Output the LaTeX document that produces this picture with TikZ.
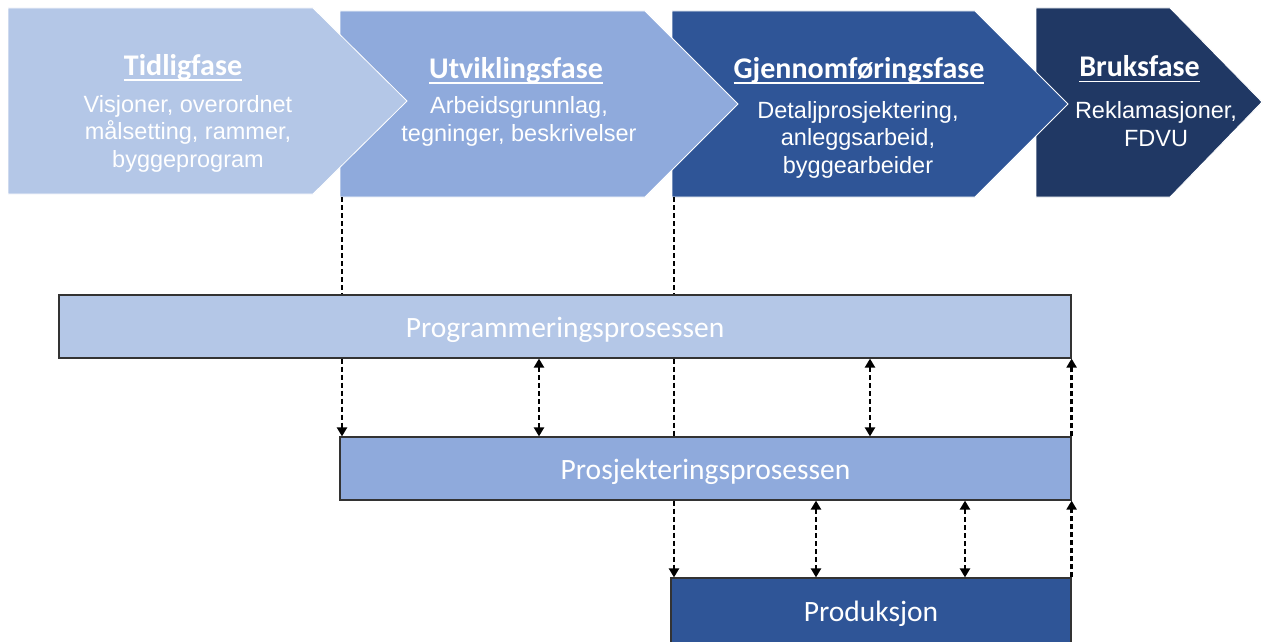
\documentclass[tikz,border=0pt]{standalone}
\usepackage{fontspec}
\setmainfont{Liberation Sans}
\newfontfamily\calib{Carlito}
\usetikzlibrary{arrows.meta}
\definecolor{cA}{HTML}{B4C7E7}
\definecolor{cB}{HTML}{8FAADC}
\definecolor{cC}{HTML}{2F5597}
\definecolor{cD}{HTML}{203864}
\newcommand\myul[1]{\setbox0\hbox{#1}\rlap{\rule[-5.5pt]{\wd0}{1.8pt}}\box0}
\tikzset{Tri/.tip={Triangle[length=9pt,width=10pt]}}
\begin{document}
\begin{tikzpicture}[x=1pt,y=-1pt,
 chev/.style={draw=white, line width=0.8pt},
 ttl/.style={text=white, font=\calib\fontsize{30}{35}\selectfont\bfseries, anchor=base, inner sep=0pt},
 dsc/.style={text=white, font=\fontsize{23.5}{27.5}\selectfont, align=center, anchor=base, inner sep=0pt},
 bar/.style={draw=black!80, line width=1.2pt, text=white, font=\calib\fontsize{29.5}{34}\selectfont, inner sep=0pt, text height=25pt, text depth=4pt},
 dl/.style={dash pattern=on 5pt off 3pt, line width=2.3pt}
]
\clip (0,0) rectangle (1264,642);
\fill[white] (0,0) rectangle (1264,642);
% chevrons
\path[fill=cD, chev] (1036,8) -- (1170,8) -- (1262,102) -- (1170,197) -- (1036,197) -- cycle;
\path[fill=cC, chev] (672,11) -- (975,11) -- (1068,104) -- (975,197) -- (672,197) -- cycle;
\path[fill=cB, chev] (340,11) -- (645,11) -- (738,104) -- (645,197) -- (340,197) -- cycle;
\path[fill=cA, chev] (8,8) -- (313,8) -- (407,101) -- (313,194) -- (8,194) -- cycle;
\coordinate (ub) at (342,197);
\coordinate (gb) at (674,197);
% titles
\node[ttl] (t1) at (183,75) {\myul{Tidligfase}};
\node[ttl] (t2) at (516,78) {\myul{Utviklingsfase}};
\node[ttl] (t3) at (859,78) {\myul{Gjennomføringsfase}};
\node[ttl] (t4) at (1139.5,77) {\myul{Bruksfase}};
% descriptions (base = last line)
\node[dsc] (d1) at (188,167) {Visjoner, overordnet\\målsetting, rammer,\\byggeprogram};
\node[dsc] (d2) at (519,141) {Arbeidsgrunnlag,\\tegninger, beskrivelser};
\node[dsc] (d3) at (858,173) {Detaljprosjektering,\\anleggsarbeid,\\byggearbeider};
\node[dsc] (d4) at (1156,146) {Reklamasjoner,\\FDVU};
% bars
\node[bar, fill=cA, minimum width=1012pt, minimum height=63pt] (prog) at (565,326.5) {Programmeringsprosessen};
\node[bar, fill=cB, minimum width=731pt, minimum height=63pt] (prosj) at (705.5,468.5) {Prosjekteringsprosessen};
\node[bar, fill=cC, minimum width=400pt, minimum height=66pt] (prod) at (871,611) {Produksjon};
% connector x positions
\coordinate (x1) at (342,0);
\coordinate (x2) at (674,0);
\coordinate (a1) at (539,0);
\coordinate (a2) at (870,0);
\coordinate (a3) at (816,0);
\coordinate (a4) at (965,0);
% connectors
\draw[dl] (ub) -- (ub |- prog.north);
\draw[dl,-Tri] (prog.south -| x1) -- (prosj.north -| x1);
\draw[dl] (gb) -- (gb |- prog.north);
\draw[dl] (prog.south -| x2) -- (prosj.north -| x2);
\draw[dl,-Tri] (prosj.south -| x2) -- (prod.north -| x2);
\draw[dl,Tri-Tri] (prog.south -| a1) -- (prosj.north -| a1);
\draw[dl,Tri-Tri] (prog.south -| a2) -- (prosj.north -| a2);
\draw[dl,Tri-Tri] (prosj.south -| a3) -- (prod.north -| a3);
\draw[dl,Tri-Tri] (prosj.south -| a4) -- (prod.north -| a4);
\draw[dl,-Tri] (prosj.north east) -- (prog.south east);
\draw[dl,-Tri] (prod.north east) -- (prosj.south east);
\end{tikzpicture}
\end{document}
